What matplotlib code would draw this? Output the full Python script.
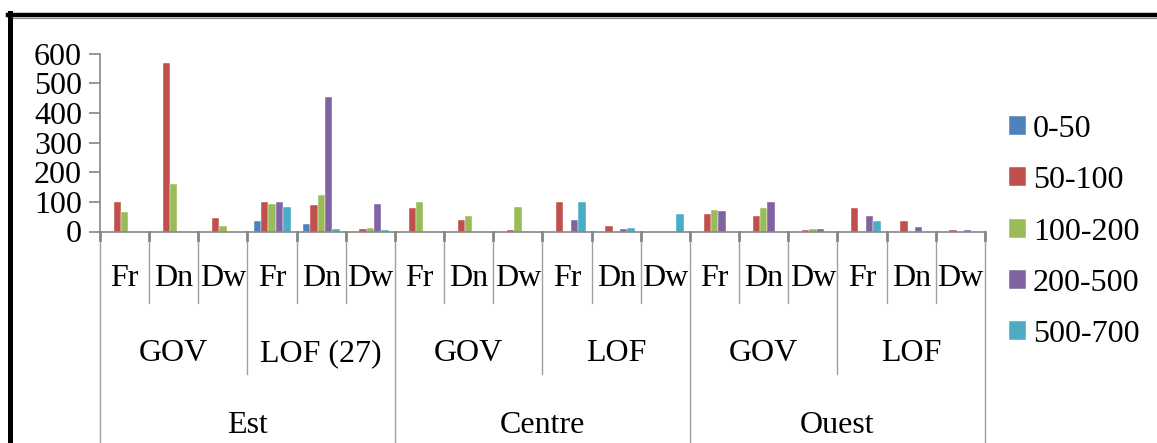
import matplotlib.pyplot as plt
import numpy as np
from matplotlib.lines import Line2D
import matplotlib.transforms as mtransforms

plt.rcParams['font.family'] = ['Liberation Serif', 'DejaVu Serif']

# categories (inner -> outer)
types = ["Fr", "Dn", "Dw"]
groups = ["GOV", "LOF (27)", "GOV", "LOF", "GOV", "LOF"]
regions = ["Est", "Centre", "Ouest"]

series_names = ["0-50", "50-100", "100-200", "200-500", "500-700"]
colors = ["#4F81BD", "#C0504D", "#9BBB59", "#8064A2", "#4BACC6"]

# values, one per Fr/Dn/Dw cell (18 cells)
s_0_50 = [0, 0, 0, 34, 25, 0, 0, 0, 0, 0, 0, 0, 0, 0, 0, 0, 0, 0]
s_50_100 = [99, 568, 44, 99, 88, 7, 79, 40, 4, 99, 17, 0, 59, 51, 6, 79, 35, 4]
s_100_200 = [66, 161, 19, 93, 124, 11, 99, 52, 82, 0, 0, 0, 71, 78, 7, 0, 0, 0]
s_200_500 = [0, 0, 0, 99, 453, 92, 0, 0, 0, 38, 9, 0, 69, 99, 9, 53, 14, 6]
s_500_700 = [0, 0, 0, 83, 7, 5, 0, 0, 0, 99, 12, 59, 0, 0, 0, 34, 0, 0]
values = [s_0_50, s_50_100, s_100_200, s_200_500, s_500_700]

FS = 23
W, H = 1157, 443
fig = plt.figure(figsize=(W / 100, H / 100), dpi=100)
ax = fig.add_axes([100 / W, (H - 231.5) / H, 885 / W, 177.8 / H])

n = len(s_0_50)
x = np.arange(n)
bw = 0.15
for k, (vals, c, name) in enumerate(zip(values, colors, series_names)):
    ax.bar(x + (k - 2) * bw, vals, width=bw, color=c, label=name,
           edgecolor="white", linewidth=0.3)

ax.set_xlim(-0.5, n - 0.5)
ax.set_ylim(0, 600)
ax.set_yticks(range(0, 601, 100))
ax.tick_params(axis="y", labelsize=FS, length=8, width=1.2, color="#868686", pad=5)
ax.set_xticks([])
for s in ["top", "right"]:
    ax.spines[s].set_visible(False)
for s in ["left", "bottom"]:
    ax.spines[s].set_color("#868686")
    ax.spines[s].set_linewidth(1.2)

# multi-level category axis
trans = mtransforms.blended_transform_factory(ax.transData, ax.transAxes)
gray = "#A0A0A0"
for b in range(n + 1):
    xb = b - 0.5
    if b % 6 == 0:
        y_end = -1.4
    elif b % 3 == 0:
        y_end = -0.80
    else:
        y_end = -0.40
    ax.add_line(Line2D([xb, xb], [0, y_end], transform=trans, color=gray,
                       lw=1, clip_on=False))
    ax.add_line(Line2D([xb, xb], [0, -0.05], transform=trans, color="#868686",
                       lw=2, clip_on=False))

for i in range(n):
    ax.text(i, -0.267, types[i % 3], transform=trans, ha="center", va="center",
            fontsize=FS)
for g, name in enumerate(groups):
    ax.text(g * 3 + 1, -0.685, name, transform=trans, ha="center", va="center",
            fontsize=FS)
for r, name in enumerate(regions):
    ax.text(r * 6 + 2.5, -1.09, name, transform=trans, ha="center", va="center",
            fontsize=FS)

fig.legend(loc="center left", bbox_to_anchor=(1009 / W, (H - 232) / H),
           frameon=False, fontsize=FS, handlelength=0.53, handleheight=0.53,
           handletextpad=0.22, labelspacing=0.7, borderpad=0, borderaxespad=0)

# outer frame (top and left; bottom is cut off)
fig.add_artist(Line2D([10.2 / W, 10.2 / W], [0, (H - 13) / H],
                      transform=fig.transFigure, color="black", lw=3.6))
fig.add_artist(Line2D([8 / W, 1], [(H - 15.2) / H, (H - 15.2) / H],
                      transform=fig.transFigure, color="black", lw=3.2))
fig.add_artist(Line2D([12.5 / W, 1], [(H - 18) / H, (H - 18) / H],
                      transform=fig.transFigure, color="#868686", lw=0.8))

fig.savefig("out.png", dpi=100)
